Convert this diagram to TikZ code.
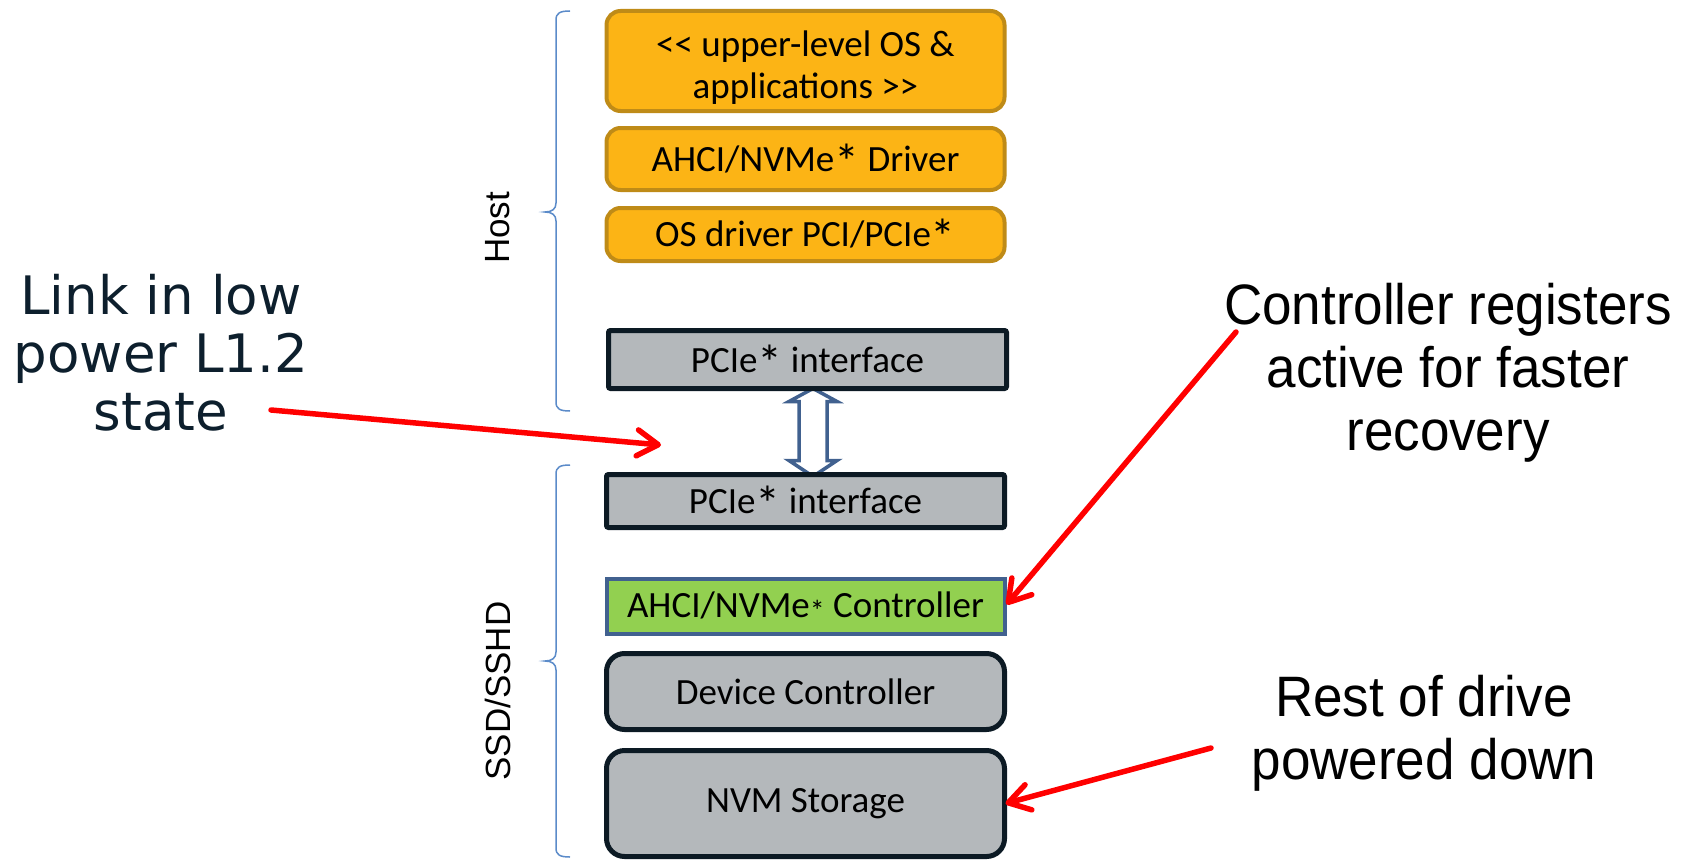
\documentclass[tikz,border=0pt]{standalone}
\usepackage{fontspec}
\setmainfont{Carlito}
\newfontfamily\linkfont{DejaVu Sans}
\newfontfamily\notefont[FakeStretch=0.93]{Liberation Sans}
\newfontfamily\sidefont{Liberation Sans}
\usetikzlibrary{arrows.meta,calc,backgrounds}

\definecolor{ambfill}{HTML}{FCB415}
\definecolor{ambline}{HTML}{BF8B17}
\definecolor{grayfill}{HTML}{B4B8BB}
\definecolor{darkline}{HTML}{0C1A24}
\definecolor{greenfill}{HTML}{92D050}
\definecolor{steel}{HTML}{41618F}
\definecolor{bracec}{HTML}{5B8BC9}
\definecolor{navytext}{HTML}{0D1F2D}

% trademark asterisk, set a little larger than the text font's own
\newcommand\tmast{{\fontsize{50}{50}\selectfont\smash{\raisebox{-8pt}{*}}}}

\begin{document}
\begin{tikzpicture}[x=1pt,y=-1pt,
  every node/.style={inner sep=0pt, outer sep=0pt},
  layer/.style={draw, minimum width=398pt, align=center, font=\fontsize{37}{42}\selectfont},
  swbox/.style={layer, fill=ambfill, draw=ambline, line width=4pt, rounded corners=14pt},
  ifbox/.style={layer, fill=grayfill, draw=darkline, line width=5pt, rounded corners=2pt},
  hwbox/.style={layer, fill=grayfill, draw=darkline, line width=5pt, rounded corners=18pt},
  regbox/.style={layer, fill=greenfill, draw=steel, line width=4pt},
  callout/.style={draw=red, line width=5.5pt, line cap=round, line join=round,
    -{Straight Barb[length=21pt,width=26pt,round]}},
  bracepath/.style={draw=bracec, line width=1.5pt},
  sidelabel/.style={rotate=90, font=\sidefont\fontsize{35}{35}\selectfont},
  note/.style={align=center, font=\notefont\fontsize{57}{63}\selectfont},
  linknote/.style={align=center, text=navytext, font=\linkfont\fontsize{53}{58}\selectfont},
]
\useasboundingbox (0,0) rectangle (1688,859);

% host software stack
\node[swbox, minimum height=100pt] (apps) at (805.5,61)
  {\rule{0pt}{38pt}<\kern0pt< upper-level OS \&\\applications >\kern0pt>};
\node[swbox, minimum height=62pt] (drv) at (805.5,159) {AHCI/NVMe\tmast{} Driver};
\node[swbox, minimum height=53pt] (osd) at (805.5,234.5) {OS driver PCI/PCIe\tmast};
\node[ifbox, minimum height=58pt] (pA) at (807.5,359.5) {PCIe\tmast{} interface};

% device stack
\node[ifbox, minimum height=53pt] (pB) at (805.5,501) {PCIe\tmast{} interface};
\node[regbox, minimum height=55pt] (ctl) at (805.5,606.5) {AHCI/NVMe{\fontsize{30}{30}\selectfont\raisebox{-4pt}{*}} Controller};
\node[hwbox, minimum height=76pt] (dev) at (805.5,691.5) {Device Controller};
\node[hwbox, minimum height=106pt] (nvm) at (805.5,803.5) {NVM Storage};

% link between the two interfaces
\coordinate (lt) at ($(pA.south)+(5.5,0)$);
\coordinate (lb) at ($(pB.north)+(7.5,2)$);
\begin{pgfonlayer}{background}
\draw[steel, line width=3.5pt, fill=white, line join=miter]
  (lt) -- ++(24,13) -- ++(-10,0) -- ($(lb)+(14,-16)$) -- ++(10,0) -- (lb)
  -- ++(-24,-16) -- ++(10,0) -- ($(lt)+(-14,13)$) -- ++(-10,0) -- cycle;
\end{pgfonlayer}

% side braces and their labels
\draw[bracepath] (570,11) .. controls (560,11) and (556,13) .. (556,20) -- (556,203)
  .. controls (556,209) and (552,212) .. (545,212)
  .. controls (552,212) and (556,215) .. (556,221) -- (556,402)
  .. controls (556,409) and (560,411) .. (570,411);
\draw[bracepath] (570,465) .. controls (560,465) and (556,467) .. (556,474) -- (556,652)
  .. controls (556,658) and (552,661) .. (545,661)
  .. controls (552,661) and (556,664) .. (556,670) -- (556,848)
  .. controls (556,855) and (560,857) .. (570,857);
\node[sidelabel] (host) at (498,228) {Host};
\node[sidelabel] (ssd) at (498,691) {SSD/SSHD};

% annotations (anchored at the baseline of their last line)
\node[linknote, anchor=base] (linktxt) at (161,430) {Link in low\\power L1.2\\state};
\node[note, anchor=base] (regtxt) at (1448,450) {Controller registers\\active for faster\\recovery};
\node[note, anchor=base] (resttxt) at (1424,779) {Rest of drive\\powered down};

\coordinate (a1s) at (271,410);
\coordinate (a1e) at (661,445);
\coordinate (a2s) at (1236,332);
\coordinate (a3s) at (1211,748);
\draw[callout] (a1s) -- (a1e);
\draw[callout] (a2s) -- ($(ctl.east)+(2,-2)$);
\draw[callout] (a3s) -- ($(nvm.east)+(1,0)$);
\end{tikzpicture}
\end{document}
